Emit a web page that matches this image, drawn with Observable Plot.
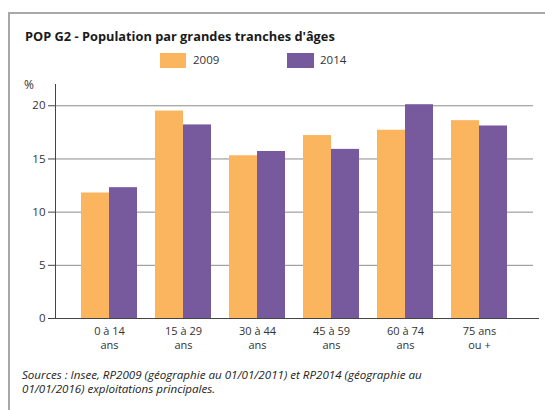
<!DOCTYPE html>
<html>
<head>
<meta charset="utf-8">
<script src="https://cdn.jsdelivr.net/npm/d3@7"></script>
<script src="https://cdn.jsdelivr.net/npm/@observablehq/plot@0.6"></script>
<style>
  html, body { margin: 0; padding: 0; width: 545px; height: 410px; overflow: hidden; background: #fff; font-family: "Open Sans", sans-serif; }
  #frame { position: absolute; left: 8px; top: 12px; width: 600px; height: 420px; border: 2px solid #a8a8a8; box-sizing: border-box; }
  #title { position: absolute; left: 25px; top: 27px; font-size: 12.8px; font-weight: 700; color: #1a1a1a; white-space: nowrap; }
  .sw { position: absolute; top: 53px; width: 26px; height: 15px; }
  .lg { position: absolute; top: 52px; font-size: 11.5px; color: #333; line-height: 16px; }
  #unit { position: absolute; left: 24px; top: 76px; font-size: 12px; color: #333; }
  #chart { position: absolute; left: 0; top: 75px; }
  #caption { position: absolute; left: 22px; top: 368px; font-size: 11.6px; font-style: italic; color: #222; line-height: 13.6px; white-space: nowrap; }
</style>
</head>
<body>
<div id="frame"></div>
<div id="title"></div>
<div id="legend"></div>
<div id="unit">%</div>
<div id="chart"></div>
<div id="caption"></div>
<script>
const title = "POP G2 - Population par grandes tranches d'âges";
const categories = ["0 à 14\nans", "15 à 29\nans", "30 à 44\nans", "45 à 59\nans", "60 à 74\nans", "75 ans\nou +"];
const series = ["2009", "2014"];
const values2009 = [11.8, 19.5, 15.3, 17.2, 17.7, 18.6];
const values2014 = [12.3, 18.2, 15.7, 15.9, 20.1, 18.1];
const yTicks = [0, 5, 10, 15, 20];
const captionLines = [
  "Sources : Insee, RP2009 (géographie au 01/01/2011) et RP2014 (géographie au",
  "01/01/2016) exploitations principales."
];
const colors = ["#fbb55f", "#775a9e"];

document.getElementById("title").textContent = title;
const cap = document.getElementById("caption");
captionLines.forEach((s, i) => {
  if (i) cap.appendChild(document.createElement("br"));
  cap.appendChild(document.createTextNode(s));
});

const legend = document.getElementById("legend");
const legendPos = [[160, 193], [287, 320]];
series.forEach((s, i) => {
  const sw = document.createElement("div");
  sw.className = "sw"; sw.style.left = legendPos[i][0] + "px"; sw.style.background = colors[i];
  if (i === 1) sw.style.width = "27px";
  legend.appendChild(sw);
  const t = document.createElement("div");
  t.className = "lg"; t.style.left = legendPos[i][1] + "px"; t.textContent = s;
  legend.appendChild(t);
});

const rows2009 = categories.map((c, i) => ({cat: c, value: values2009[i]}));
const rows2014 = categories.map((c, i) => ({cat: c, value: values2014[i]}));

const chart = Plot.plot({
  width: 545,
  height: 280,
  marginLeft: 55,
  marginRight: 12,
  marginTop: 9,
  marginBottom: 37,
  style: {fontFamily: "Open Sans", fontSize: "11px", color: "#333", background: "transparent"},
  x: {domain: categories, paddingInner: 0.244, paddingOuter: 0.347, label: null},
  y: {domain: [0, 22], label: null},
  marks: [
    Plot.ruleY(yTicks.slice(1), {stroke: "#8c8c8c", strokeWidth: 1}),
    Plot.barY(rows2009, {x: "cat", y: "value", fill: colors[0], insetRight: 28}),
    Plot.barY(rows2014, {x: "cat", y: "value", fill: colors[1], insetLeft: 28}),
    Plot.axisY({ticks: yTicks, tickSize: 7, tickPadding: 3, label: null, stroke: "#444", fontSize: 11.5}),
    Plot.axisX({tickSize: 0, tickPadding: 7, label: null, lineHeight: 1.25}),
    Plot.ruleY([0], {stroke: "#444", insetRight: -6}),
    Plot.frame({anchor: "left", stroke: "#444"})
  ]
});
document.getElementById("chart").appendChild(chart);
</script>
</body>
</html>
